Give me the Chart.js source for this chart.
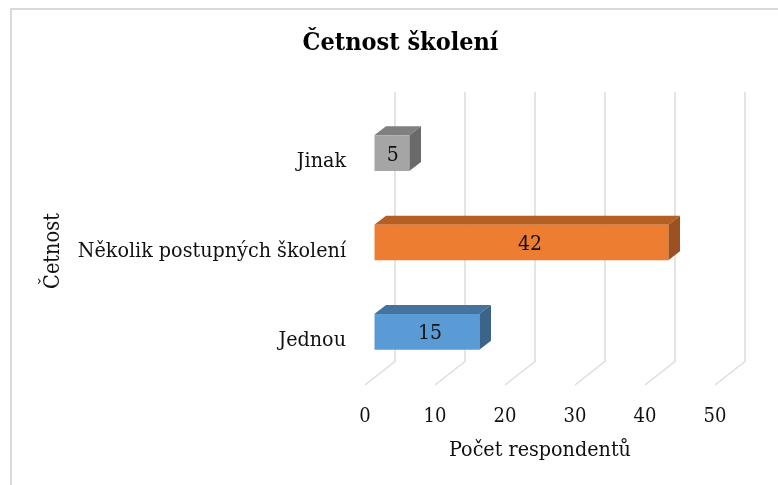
<!DOCTYPE html>
<html>
<head>
<meta charset="utf-8">
<title>Četnost školení</title>
<script src="https://cdn.jsdelivr.net/npm/chart.js@4"></script>
<style>
  html, body { margin: 0; padding: 0; background: #fff; overflow: hidden; }
  #wrap { position: relative; width: 778px; height: 485px; }
</style>
</head>
<body>
<div id="wrap"><canvas id="chart"></canvas></div>
<script>
/* Data */
const categories = ['Jinak', 'Několik postupných školení', 'Jednou'];
const respondents = [5, 42, 15];
const axisTicks = [0, 10, 20, 30, 40, 50];

const frontColors = ['#a5a5a5', '#ed7d31', '#5b9bd5'];
const topColors   = ['#7f7f7f', '#b55f25', '#44739f'];
const sideColors  = ['#6a6a6a', '#9c5220', '#3b6488'];

const FONT = "'DejaVu Serif Condensed', 'DejaVu Serif', serif";
const INK = '#111';

/* Fake 3D depth: the bars sit inside a box, Excel style */
const BOX_DX = 30, BOX_DY = 23.5, BOX_TOP = 92;
const BAR_SHIFT_X = 9.3, BAR_SHIFT_Y = -8.5;
const BAR_DX = 11.7, BAR_DY = 9;

function poly(ctx, pts, fill) {
  ctx.beginPath();
  pts.forEach((p, i) => i ? ctx.lineTo(p[0], p[1]) : ctx.moveTo(p[0], p[1]));
  ctx.closePath();
  ctx.fillStyle = fill;
  ctx.fill();
}

const box3d = {
  id: 'box3d',
  beforeDraw(chart) {
    const ctx = chart.ctx;
    ctx.save();
    ctx.strokeStyle = '#d9d9d9';
    ctx.lineWidth = 2;
    ctx.beginPath();
    ctx.moveTo(11, 485);
    ctx.lineTo(11, 9);
    ctx.lineTo(778, 9);
    ctx.stroke();
    ctx.restore();
  },
  beforeDatasetsDraw(chart) {
    const ctx = chart.ctx, x = chart.scales.x, bottom = chart.chartArea.bottom;
    ctx.save();
    ctx.strokeStyle = '#dcdcdc';
    ctx.lineWidth = 1.5;
    axisTicks.forEach(v => {
      const px = x.getPixelForValue(v);
      ctx.beginPath();
      ctx.moveTo(px + BOX_DX, BOX_TOP);
      ctx.lineTo(px + BOX_DX, bottom - BOX_DY);
      ctx.lineTo(px, bottom);
      ctx.stroke();
    });
    ctx.restore();

    // top and side faces first, then the library draws the front shifted into the box
    ctx.save();
    ctx.translate(BAR_SHIFT_X, BAR_SHIFT_Y);
    chart.getDatasetMeta(0).data.forEach((bar, i) => {
      const l = bar.base, r = bar.x, t = bar.y - bar.height / 2, b = bar.y + bar.height / 2;
      poly(ctx, [[l, t], [l + BAR_DX, t - BAR_DY], [r + BAR_DX, t - BAR_DY], [r, t]], topColors[i]);
      poly(ctx, [[r, t], [r + BAR_DX, t - BAR_DY], [r + BAR_DX, b - BAR_DY], [r, b]], sideColors[i]);
    });
    ctx.restore();
    ctx.save();
    ctx.translate(BAR_SHIFT_X, BAR_SHIFT_Y);
  },
  afterDatasetsDraw(chart) {
    const ctx = chart.ctx, x = chart.scales.x;
    ctx.restore();
    ctx.save();
    ctx.font = '21px ' + FONT;
    ctx.fillStyle = INK;
    ctx.textAlign = 'center';
    ctx.textBaseline = 'middle';
    chart.getDatasetMeta(0).data.forEach((bar, i) => {
      const px = x.getPixelForValue(respondents[i] * 0.53) + BAR_SHIFT_X;
      ctx.fillText(String(respondents[i]), px, bar.y + BAR_SHIFT_Y + 2);
    });
    ctx.restore();
  }
};

new Chart(document.getElementById('chart'), {
  type: 'bar',
  data: {
    labels: categories,
    datasets: [{
      data: respondents,
      backgroundColor: frontColors,
      borderWidth: 0,
      barPercentage: 1,
      categoryPercentage: 0.4
    }]
  },
  options: {
    indexAxis: 'y',
    responsive: true,
    maintainAspectRatio: false,
    animation: false,
    layout: { padding: { left: 23, right: 0, top: 0, bottom: 0 } },
    plugins: {
      legend: { display: false },
      tooltip: { enabled: false },
      title: {
        display: true,
        text: 'Četnost školení',
        color: '#000',
        font: { family: FONT, size: 25, weight: 'bold' },
        padding: { top: 28, bottom: 59 }
      }
    },
    scales: {
      x: {
        min: 0,
        max: 50,
        afterBuildTicks: s => { s.ticks = axisTicks.map(v => ({ value: v })); },
        afterFit: s => { s.height = 100; },
        grid: { display: false, drawTicks: false },
        border: { display: false },
        ticks: { color: INK, font: { family: FONT, size: 20 }, padding: 20, maxRotation: 0 },
        title: {
          display: true,
          text: 'Počet respondentů',
          color: INK,
          font: { family: FONT, size: 21.3 },
          padding: { top: 4, bottom: 22 }
        }
      },
      y: {
        afterFit: s => { s.width = 342; },
        grid: { display: false, drawTicks: false },
        border: { display: false },
        ticks: { color: INK, font: { family: FONT, size: 21.3 }, padding: 19 },
        title: {
          display: true,
          text: 'Četnost',
          color: INK,
          font: { family: FONT, size: 21.5 },
          padding: { top: 18, bottom: 0 }
        }
      },
      // empty axis, keeps the plot clear of the right edge while the title centres on the full width
      spacer: {
        axis: 'y',
        position: 'right',
        afterFit: s => { s.width = 63; },
        grid: { display: false, drawTicks: false },
        border: { display: false },
        ticks: { display: false }
      }
    }
  },
  plugins: [box3d]
});
</script>
</body>
</html>
